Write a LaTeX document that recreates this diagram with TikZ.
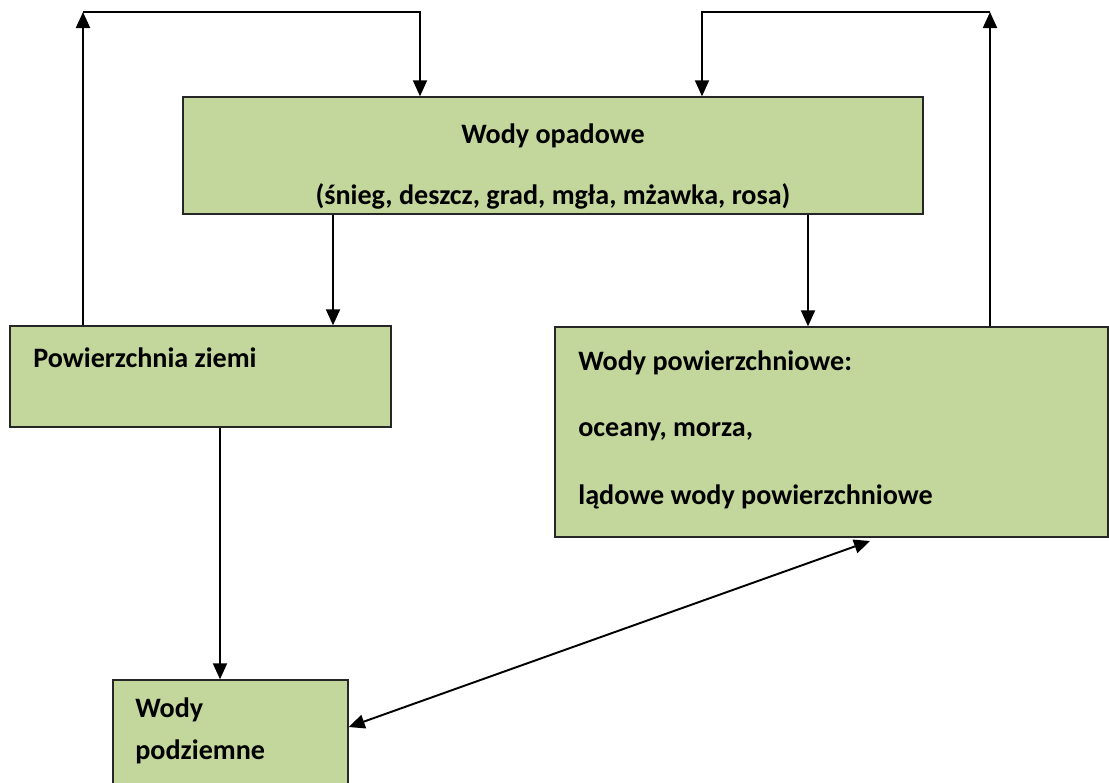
\documentclass[tikz,border=0pt]{standalone}
\usepackage{fontspec}
\setmainfont{Carlito}
\usepackage{tikz}
\usetikzlibrary{arrows.meta,calc}
\definecolor{boxgreen}{RGB}{195,214,155}
\tikzstyle{box}=[draw=black!85, fill=boxgreen, line width=0.8pt, inner sep=0pt]
\tikzstyle{txt}=[font=\bfseries\fontsize{16}{19}\selectfont, inner sep=0pt, anchor=west]
\tikzstyle{arr}=[line width=1.1pt, -{Triangle[length=3.2mm,width=2.8mm]}]
\tikzstyle{dbl}=[line width=1.1pt, {Triangle[length=3.2mm,width=2.8mm]}-{Triangle[length=3.2mm,width=2.8mm]}]

\begin{document}
\begin{tikzpicture}
\useasboundingbox (0,0) rectangle (22.18,-15.64);
% boxes
\node[box, minimum width=14.8cm, minimum height=2.34cm] (opad) at (11.06,-3.11) {};
\node[box, minimum width=7.62cm, minimum height=2.02cm] (ziem) at (4.01,-7.53) {};
\node[box, minimum width=11.06cm, minimum height=4.2cm] (powr) at (16.63,-8.64) {};
\node[box, minimum width=4.7cm, minimum height=2.2cm] (podz) at (4.61,-14.7) {};
% texts
\node[txt, anchor=center] (opad-t1) at (11.06,-2.72) {Wody opadowe};
\node[txt, anchor=center] (opad-t2) at (11.06,-3.92) {(śnieg, deszcz, grad, mgła, mżawka, rosa)};
\node[txt] (ziem-t) at (0.66,-7.16) {Powierzchnia ziemi};
\node[txt] (powr-t1) at (11.56,-7.26) {Wody powierzchniowe:};
\node[txt] (powr-t2) at (11.56,-8.64) {oceany, morza,};
\node[txt] (powr-t3) at (11.56,-9.94) {lądowe wody powierzchniowe};
\node[txt] (podz-t1) at (2.7,-14.2) {Wody};
\node[txt] (podz-t2) at (2.7,-15.04) {podziemne};
% corners of the loops
\coordinate (k1) at (1.66,-0.24);
\coordinate (k2) at (8.4,-0.24);
\coordinate (k3) at (14.04,-0.24);
\coordinate (k4) at (19.8,-0.24);
\coordinate (d1) at (6.66,0);
\coordinate (d2) at (16.16,0);
\coordinate (d3) at (4.4,0);
\coordinate (e0) at (6.96,-14.54);
\coordinate (e1) at (17.4,-10.82);
% connectors
\draw[arr] (ziem.north -| k1) -- (k1);
\draw[arr] (k1) -- (k2) -- (opad.north -| k2);
\draw[arr] (powr.north -| k4) -- (k4);
\draw[arr] (k4) -- (k3) -- (opad.north -| k3);
\draw[arr] (opad.south -| d1) -- (ziem.north -| d1);
\draw[arr] (opad.south -| d2) -- (powr.north -| d2);
\draw[arr] (ziem.south -| d3) -- (podz.north -| d3);
\draw[dbl] (podz.east |- e0) -- (e1);
\end{tikzpicture}
\end{document}
